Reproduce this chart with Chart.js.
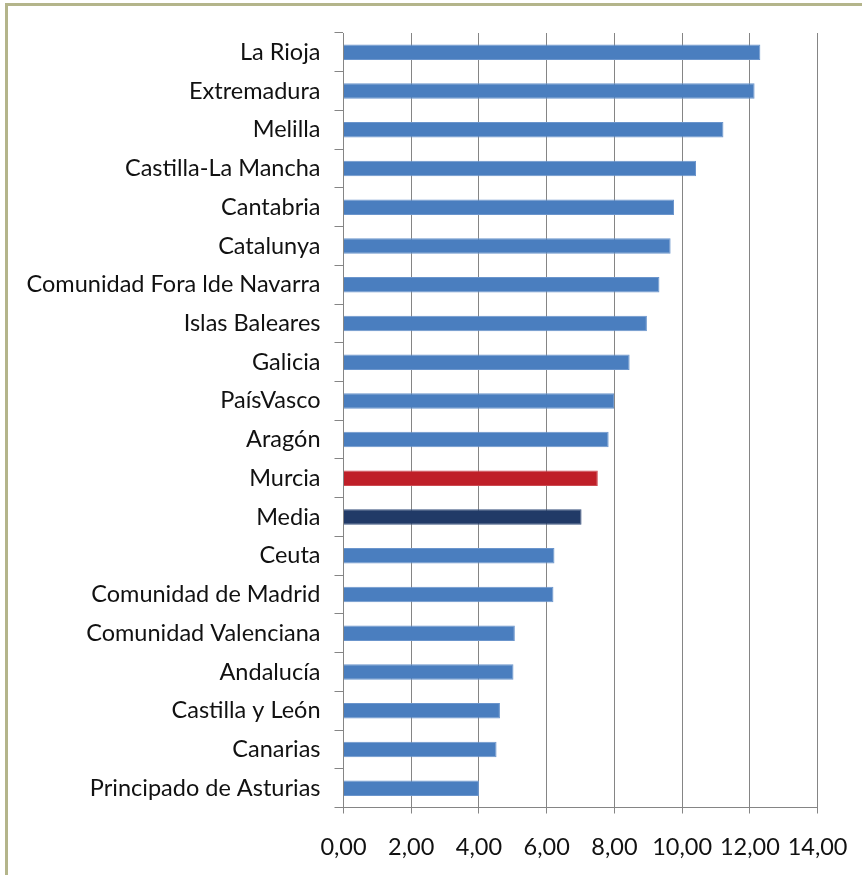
<!DOCTYPE html>
<html lang="es">
<head>
    <meta charset="UTF-8">
    <title>Comunidades autónomas</title>
    <script src="https://cdn.jsdelivr.net/npm/chart.js"></script>
    <style>
        html, body { margin: 0; padding: 0; background: #fff; overflow: hidden; }
        #frame {
            position: absolute; left: 5px; top: 3px; width: 900px; height: 900px;
            border-left: 3px solid #b4b58b; border-top: 3px solid #b4b58b;
        }
        #wrap { position: absolute; left: 0; top: 0; width: 862px; height: 875px; }
    </style>
</head>
<body>
    <div id="frame"></div>
    <div id="wrap"><canvas id="regionChart"></canvas></div>
    <script>
        // regiones, de mayor a menor
        const regiones = [
            'La Rioja', 'Extremadura', 'Melilla', 'Castilla-La Mancha', 'Cantabria',
            'Catalunya', 'Comunidad Fora lde Navarra', 'Islas Baleares', 'Galicia',
            'PaísVasco', 'Aragón', 'Murcia', 'Media', 'Ceuta', 'Comunidad de Madrid',
            'Comunidad Valenciana', 'Andalucía', 'Castilla y León', 'Canarias',
            'Principado de Asturias'
        ];
        const valores = [
            12.31, 12.14, 11.22, 10.41, 9.76,
            9.66, 9.33, 8.96, 8.45,
            7.99, 7.83, 7.51, 7.03, 6.23, 6.20,
            5.06, 5.02, 4.62, 4.52,
            4.00
        ];
        const ejeX = { min: 0, max: 14, paso: 2 };

        const AZUL = '#4a7ebf', ROJO = '#bf1f28', NAVY = '#213a67';
        const colores = regiones.map(r => r === 'Murcia' ? ROJO : (r === 'Media' ? NAVY : AZUL));
        const bordes = regiones.map(r => r === 'Murcia' ? '#cc4a50' : (r === 'Media' ? '#3d5580' : '#6b95cc'));

        const fuente = { family: 'Lato, "Open Sans", sans-serif', size: 23.5 };
        // linea más alta para bajar un poco las etiquetas del eje x
        const fuenteX = { ...fuente, lineHeight: 1.67 };
        const GRIS = '#858585';

        new Chart(document.getElementById('regionChart'), {
            type: 'bar',
            data: {
                labels: regiones,
                datasets: [{
                    data: valores,
                    backgroundColor: colores,
                    borderColor: bordes,
                    borderWidth: 1,
                    barPercentage: 0.4,
                    categoryPercentage: 1
                }]
            },
            options: {
                indexAxis: 'y',
                responsive: true,
                maintainAspectRatio: false,
                animation: false,
                layout: { padding: { left: 0, top: 33, right: 20, bottom: 0 } },
                plugins: { legend: { display: false }, tooltip: { enabled: false } },
                scales: {
                    x: {
                        min: ejeX.min, max: ejeX.max,
                        afterFit: s => { s.height = 67.5; },
                        ticks: {
                            stepSize: ejeX.paso,
                            color: '#111',
                            font: fuenteX,
                            padding: 14.5,
                            maxRotation: 0,
                            callback: v => v.toFixed(2).replace('.', ',')
                        },
                        grid: { color: GRIS, lineWidth: 1, tickLength: 6 },
                        border: { color: GRIS, width: 1 }
                    },
                    y: {
                        afterFit: s => { s.width = 343.5; },
                        ticks: { color: '#111', font: fuente, padding: 14, autoSkip: false },
                        grid: { offset: true, drawOnChartArea: false, color: GRIS, tickLength: 9 },
                        border: { color: GRIS, width: 1 }
                    }
                }
            }
        });
    </script>
</body>
</html>
